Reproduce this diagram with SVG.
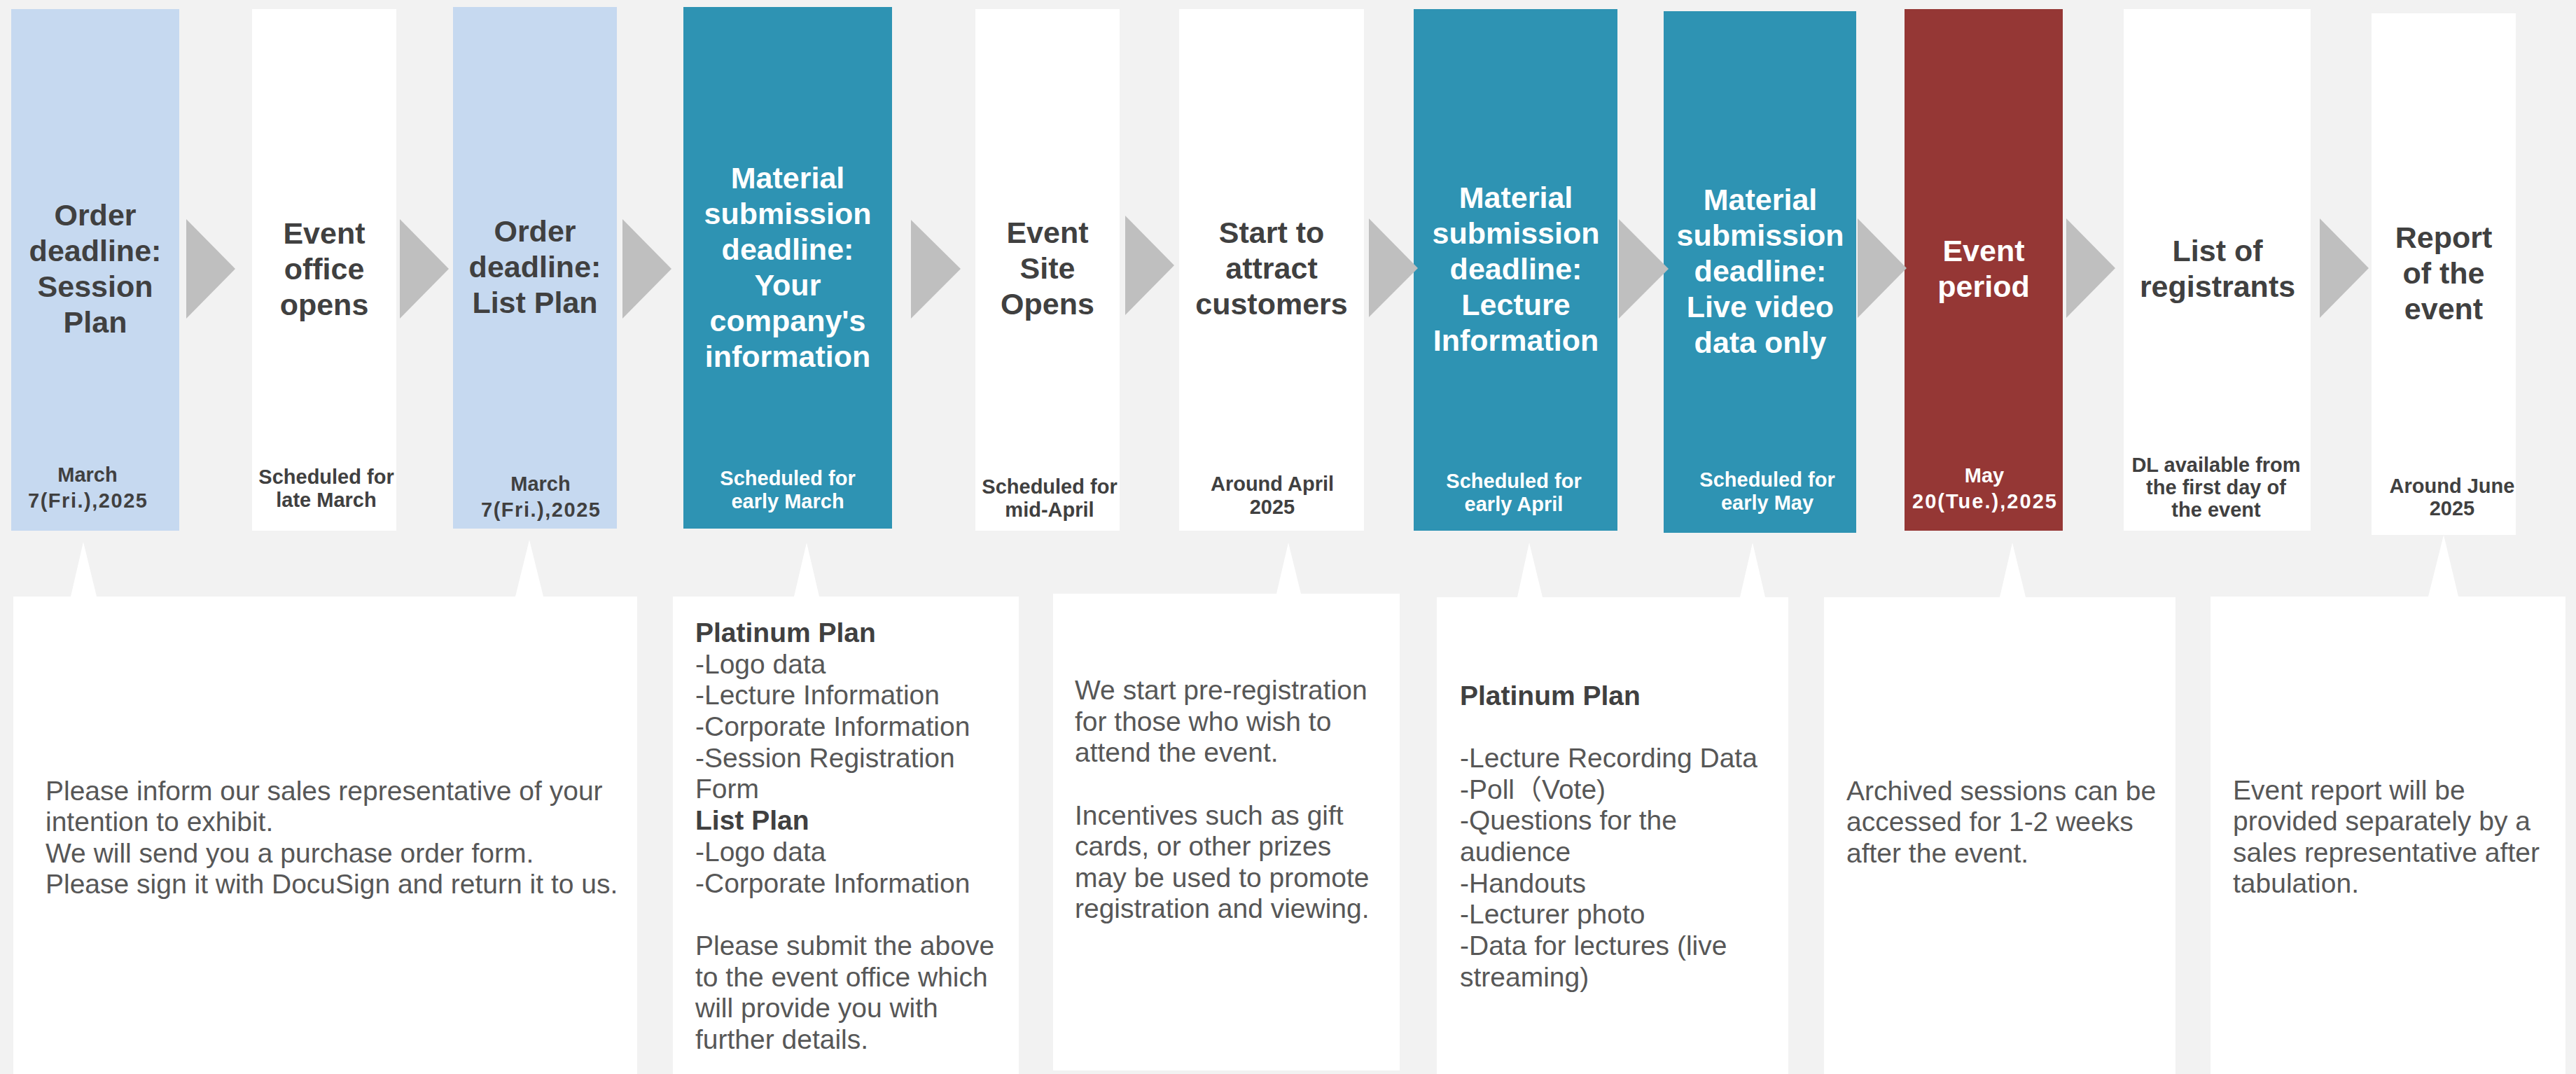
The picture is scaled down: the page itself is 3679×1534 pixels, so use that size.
<svg xmlns="http://www.w3.org/2000/svg" width="3679" height="1534" viewBox="0 0 3679 1534">
  <style>
    .bg { fill: #F2F2F2; }
    .lightblue { fill: #C6D9F0; }
    .white { fill: #FFFFFF; }
    .teal { fill: #2E93B3; }
    .red { fill: #953735; }
    .chev { fill: #BFBFBF; }
    .callout { fill: #FFFFFF; }
    .head { font-family: "Liberation Sans", Arial, sans-serif; font-size: 43px; font-weight: bold; text-anchor: middle; fill: #404040; }
    .date { font-family: "Liberation Sans", Arial, sans-serif; font-size: 29px; font-weight: bold; text-anchor: middle; fill: #404040; }
    .inv { fill: #FFFFFF; }
    .body { font-family: "Liberation Sans", Arial, "Noto Sans CJK JP", sans-serif; font-size: 39px; fill: #575757; }
    .strong { font-weight: bold; fill: #404040; }
  </style>

  <rect class="bg" x="0" y="0" width="3679" height="1534"/>

  <!-- timeline steps -->
  <g id="step-order-session">
    <rect class="lightblue" x="16" y="13" width="240" height="745"/>
    <text class="head"><tspan x="136" y="322">Order</tspan><tspan x="136" y="373">deadline:</tspan><tspan x="136" y="424">Session</tspan><tspan x="136" y="475">Plan</tspan></text>
    <text class="date"><tspan x="125" y="688">March</tspan><tspan x="40" y="725" text-anchor="start" textLength="170">7(Fri.),2025</tspan></text>
  </g>

  <g id="step-office-opens">
    <rect class="white" x="360" y="13" width="206" height="745"/>
    <text class="head"><tspan x="463" y="348">Event</tspan><tspan x="463" y="399">office</tspan><tspan x="463" y="450">opens</tspan></text>
    <text class="date"><tspan x="466" y="691">Scheduled for</tspan><tspan x="466" y="724">late March</tspan></text>
  </g>

  <g id="step-order-list">
    <rect class="lightblue" x="647" y="10" width="234" height="745"/>
    <text class="head"><tspan x="764" y="345">Order</tspan><tspan x="764" y="396">deadline:</tspan><tspan x="764" y="447">List Plan</tspan></text>
    <text class="date"><tspan x="772" y="701">March</tspan><tspan x="687" y="738" text-anchor="start" textLength="170">7(Fri.),2025</tspan></text>
  </g>

  <g id="step-material-company">
    <rect class="teal" x="976" y="10" width="298" height="745"/>
    <text class="head inv"><tspan x="1125" y="269">Material</tspan><tspan x="1125" y="320">submission</tspan><tspan x="1125" y="371">deadline:</tspan><tspan x="1125" y="422">Your</tspan><tspan x="1125" y="473">company's</tspan><tspan x="1125" y="524">information</tspan></text>
    <text class="date inv"><tspan x="1125" y="693">Scheduled for</tspan><tspan x="1125" y="726">early March</tspan></text>
  </g>

  <g id="step-site-opens">
    <rect class="white" x="1393" y="13" width="206" height="745"/>
    <text class="head"><tspan x="1496" y="347">Event</tspan><tspan x="1496" y="398">Site</tspan><tspan x="1496" y="449">Opens</tspan></text>
    <text class="date"><tspan x="1499" y="705">Scheduled for</tspan><tspan x="1499" y="738">mid-April</tspan></text>
  </g>

  <g id="step-attract">
    <rect class="white" x="1684" y="13" width="264" height="745"/>
    <text class="head"><tspan x="1816" y="347">Start to</tspan><tspan x="1816" y="398">attract</tspan><tspan x="1816" y="449">customers</tspan></text>
    <text class="date"><tspan x="1817" y="701">Around April</tspan><tspan x="1817" y="734">2025</tspan></text>
  </g>

  <g id="step-material-lecture">
    <rect class="teal" x="2019" y="13" width="291" height="745"/>
    <text class="head inv"><tspan x="2165" y="297">Material</tspan><tspan x="2165" y="348">submission</tspan><tspan x="2165" y="399">deadline:</tspan><tspan x="2165" y="450">Lecture</tspan><tspan x="2165" y="501">Information</tspan></text>
    <text class="date inv"><tspan x="2162" y="697">Scheduled for</tspan><tspan x="2162" y="730">early April</tspan></text>
  </g>

  <g id="step-material-live">
    <rect class="teal" x="2376" y="16" width="275" height="745"/>
    <text class="head inv"><tspan x="2514" y="300">Material</tspan><tspan x="2514" y="351">submission</tspan><tspan x="2514" y="402">deadline:</tspan><tspan x="2514" y="453">Live video</tspan><tspan x="2514" y="504">data only</tspan></text>
    <text class="date inv"><tspan x="2524" y="695">Scheduled for</tspan><tspan x="2524" y="728">early May</tspan></text>
  </g>

  <g id="step-event-period">
    <rect class="red" x="2720" y="13" width="226" height="745"/>
    <text class="head inv"><tspan x="2833" y="373">Event</tspan><tspan x="2833" y="424">period</tspan></text>
    <text class="date inv"><tspan x="2834" y="689">May</tspan><tspan x="2731" y="726" text-anchor="start" textLength="206">20(Tue.),2025</tspan></text>
  </g>

  <g id="step-registrants">
    <rect class="white" x="3033" y="13" width="267" height="745"/>
    <text class="head"><tspan x="3167" y="373">List of</tspan><tspan x="3167" y="424">registrants</tspan></text>
    <text class="date"><tspan x="3165" y="674">DL available from</tspan><tspan x="3165" y="706">the first day of</tspan><tspan x="3165" y="738">the event</tspan></text>
  </g>

  <g id="step-report">
    <rect class="white" x="3387" y="19" width="206" height="745"/>
    <text class="head"><tspan x="3490" y="354">Report</tspan><tspan x="3490" y="405">of the</tspan><tspan x="3490" y="456">event</tspan></text>
    <text class="date"><tspan x="3502" y="704">Around June</tspan><tspan x="3502" y="736">2025</tspan></text>
  </g>

  <!-- chevrons between steps -->
  <g id="connectors">
    <polygon class="chev" points="266,313 336,384 266,455"/>
    <polygon class="chev" points="571,313 641,384 571,455"/>
    <polygon class="chev" points="889,313 959,384 889,455"/>
    <polygon class="chev" points="1301,314 1372,384 1301,455"/>
    <polygon class="chev" points="1607,308 1677,379 1607,450"/>
    <polygon class="chev" points="1955,312 2025,383 1955,453"/>
    <polygon class="chev" points="2312,313 2383,384 2312,455"/>
    <polygon class="chev" points="2653,312 2723,383 2653,454"/>
    <polygon class="chev" points="2951,312 3021,383 2951,454"/>
    <polygon class="chev" points="3313,312 3383,383 3313,454"/>
  </g>

  <!-- detail callouts -->
  <g id="note-order">
    <path class="callout" d="M19,852 H101 L119,774 L138,852 H736 L756,771 L776,852 H910 V1534 H19 Z"/>
    <text class="body"><tspan x="65" y="1143">Please inform our sales representative of your</tspan><tspan x="65" y="1187">intention to exhibit.</tspan><tspan x="65" y="1232">We will send you a purchase order form.</tspan><tspan x="65" y="1276">Please sign it with DocuSign and return it to us.</tspan></text>
  </g>

  <g id="note-company-material">
    <path class="callout" d="M961,852 H1134 L1152,775 L1170,852 H1455 V1534 H961 Z"/>
    <text class="body">
      <tspan x="993" y="917" class="strong">Platinum Plan</tspan>
      <tspan x="993" y="962">-Logo data</tspan>
      <tspan x="993" y="1006">-Lecture Information</tspan>
      <tspan x="993" y="1051">-Corporate Information</tspan>
      <tspan x="993" y="1096">-Session Registration</tspan>
      <tspan x="993" y="1140">Form</tspan>
      <tspan x="993" y="1185" class="strong">List Plan</tspan>
      <tspan x="993" y="1230">-Logo data</tspan>
      <tspan x="993" y="1275">-Corporate Information</tspan>
      <tspan x="993" y="1364">Please submit the above</tspan>
      <tspan x="993" y="1409">to the event office which</tspan>
      <tspan x="993" y="1453">will provide you with</tspan>
      <tspan x="993" y="1498">further details.</tspan>
    </text>
  </g>

  <g id="note-attract">
    <path class="callout" d="M1504,848 H1823 L1840,775 L1858,848 H1999 V1529 H1504 Z"/>
    <text class="body">
      <tspan x="1535" y="999">We start pre-registration</tspan>
      <tspan x="1535" y="1044">for those who wish to</tspan>
      <tspan x="1535" y="1088">attend the event.</tspan>
      <tspan x="1535" y="1178">Incentives such as gift</tspan>
      <tspan x="1535" y="1222">cards, or other prizes</tspan>
      <tspan x="1535" y="1267">may be used to promote</tspan>
      <tspan x="1535" y="1311">registration and viewing.</tspan>
    </text>
  </g>

  <g id="note-lecture-material">
    <path class="callout" d="M2052,853 H2167 L2184,775 L2203,853 H2485 L2503,775 L2521,853 H2554 V1534 H2052 Z"/>
    <text class="body">
      <tspan x="2085" y="1007" class="strong">Platinum Plan</tspan>
      <tspan x="2085" y="1096">-Lecture Recording Data</tspan>
      <tspan x="2085" y="1141">-Poll（Vote)</tspan>
      <tspan x="2085" y="1185">-Questions for the</tspan>
      <tspan x="2085" y="1230">audience</tspan>
      <tspan x="2085" y="1275">-Handouts</tspan>
      <tspan x="2085" y="1319">-Lecturer photo</tspan>
      <tspan x="2085" y="1364">-Data for lectures (live</tspan>
      <tspan x="2085" y="1409">streaming)</tspan>
    </text>
  </g>

  <g id="note-archive">
    <path class="callout" d="M2605,853 H2856 L2874,775 L2893,853 H3107 V1534 H2605 Z"/>
    <text class="body">
      <tspan x="2637" y="1143">Archived sessions can be</tspan>
      <tspan x="2637" y="1187">accessed for 1-2 weeks</tspan>
      <tspan x="2637" y="1232">after the event.</tspan>
    </text>
  </g>

  <g id="note-report">
    <path class="callout" d="M3157,852 H3468 L3490,764 L3511,852 H3664 V1534 H3157 Z"/>
    <text class="body">
      <tspan x="3189" y="1142">Event report will be</tspan>
      <tspan x="3189" y="1186">provided separately by a</tspan>
      <tspan x="3189" y="1231">sales representative after</tspan>
      <tspan x="3189" y="1275">tabulation.</tspan>
    </text>
  </g>
</svg>
